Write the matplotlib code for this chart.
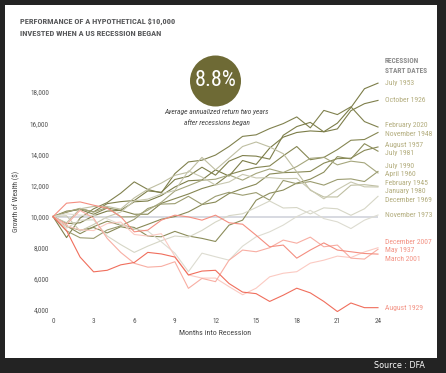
import matplotlib
matplotlib.use("Agg")
import matplotlib.pyplot as plt
import matplotlib.font_manager as fm
from matplotlib.patches import Rectangle, Ellipse
from matplotlib.ticker import FuncFormatter
import numpy as np

# ---------------- data ----------------
months = list(range(25))

july_1953 = [10000, 9550, 9600, 10050, 10350, 10400, 10950, 11000, 11350, 11900, 12300, 12350, 13000,
             12600, 13600, 13350, 14400, 15100, 15400, 15500, 15450, 16000, 17000, 18210, 18570]
oct_1926 = [10000, 10280, 10500, 10300, 10830, 10960, 11030, 11650, 11560, 12380, 12590, 13170, 12660,
            13560, 13920, 13880, 13690, 15220, 15780, 16050, 15440, 15630, 16800, 17250, 17460]
feb_2020 = [10000, 8650, 9900, 10500, 10900, 11500, 12230, 11740, 11520, 12760, 13510, 13620, 13950,
            14500, 15150, 15250, 15650, 15970, 16400, 15700, 16820, 16550, 17050, 16100, 15750]
nov_1948 = [10000, 10350, 10450, 10150, 10550, 10400, 10150, 10150, 10850, 11150, 11450, 11800, 12050,
            12700, 12950, 13150, 13250, 13900, 14500, 13650, 13800, 14300, 14900, 14950, 15400]
aug_1957 = [10000, 9400, 9120, 9300, 8950, 9350, 9180, 9500, 9830, 10000, 10300, 10770, 10930,
            11480, 11800, 12080, 12730, 12820, 12850, 12900, 13430, 13720, 13750, 14250, 14470]
july_1981 = [10000, 9400, 8900, 9350, 9700, 9450, 9300, 8750, 8700, 9050, 8750, 8600, 8400,
             9450, 9770, 11050, 11500, 11700, 12150, 12400, 12850, 13850, 13700, 14680, 14200]
july_1990 = [10000, 9080, 8640, 8600, 9140, 9400, 9820, 10520, 10800, 10830, 11300, 10780, 11300,
             11560, 11370, 11540, 11050, 12320, 12110, 12250, 12020, 12380, 12420, 12250, 12900]
apr_1960 = [10000, 10300, 10530, 10290, 10590, 9980, 9990, 10410, 10920, 11640, 11980, 12330, 12400,
            12670, 12340, 12770, 13060, 12830, 13210, 13740, 13810, 13320, 13560, 13450, 12800]
feb_1945 = [10000, 9600, 10500, 10650, 10650, 10480, 11200, 11750, 12150, 12650, 12850, 13800, 13000,
            13750, 14500, 14790, 14470, 14040, 12870, 11690, 11260, 11260, 12010, 12050, 11950]
jan_1980 = [10000, 10050, 9070, 9490, 9980, 10290, 11010, 11120, 11450, 11680, 12930, 12540, 12020,
            12220, 12710, 12480, 12500, 12430, 12450, 11730, 11140, 11730, 12220, 11910, 11900]
dec_1969 = [10000, 9260, 9770, 9790, 8750, 8200, 7700, 8100, 8450, 8750, 8680, 9110, 9650,
            10060, 10180, 10580, 11000, 10550, 10580, 10170, 10560, 10500, 10080, 10500, 11300]
nov_1973 = [10000, 10180, 10090, 10070, 9860, 9490, 9190, 9070, 8380, 7650, 6460, 7650, 7420,
            7200, 8100, 8700, 9020, 9450, 10000, 10400, 9870, 9660, 9230, 9770, 10100]
dec_2007 = [10000, 9400, 9150, 9100, 9550, 9650, 8850, 8750, 8900, 7450, 6250, 6050, 6050,
            5500, 4980, 5400, 6130, 6360, 6460, 7010, 7200, 7460, 7370, 7730, 8000]
may_1937 = [10000, 9500, 10400, 9900, 8600, 7700, 7000, 6750, 6800, 7100, 5390, 6030, 5820,
            7200, 7850, 7740, 8000, 8490, 8290, 8680, 8060, 8170, 7330, 7270, 7900]
mar_2001 = [10000, 10860, 10940, 10730, 10540, 10000, 9020, 9130, 9770, 10090, 9980, 9770, 10090,
            9600, 9510, 8800, 8060, 8170, 7330, 7850, 8310, 7850, 7740, 7630, 7590]
aug_1929 = [10000, 9100, 7400, 6450, 6550, 6900, 7050, 7700, 7600, 7400, 6250, 6500, 6550,
            5700, 5150, 5050, 4550, 4950, 5400, 5100, 4550, 3900, 4450, 4150, 4150]

series_names = ["July 1953", "October 1926", "February 2020", "November 1948", "August 1957",
                "July 1981", "July 1990", "April 1960", "February 1945", "January 1980",
                "December 1969", "November 1973", "December 2007", "May 1937", "March 2001",
                "August 1929"]
series_values = [july_1953, oct_1926, feb_2020, nov_1948, aug_1957, july_1981, july_1990, apr_1960,
                 feb_1945, jan_1980, dec_1969, nov_1973, dec_2007, may_1937, mar_2001, aug_1929]
baseline = 10000
avg_return = "8.8%"
x_ticks = [0, 3, 6, 9, 12, 15, 18, 21, 24]
y_ticks = [4000, 6000, 8000, 10000, 12000, 14000, 16000, 18000]

# ---------------- styles ----------------
line_colors = ["#7b7c47", "#7e7f4b", "#80814e", "#858652", "#888956", "#8c8d5b",
               "#9b9c70", "#a5a67d", "#bfbfa2", "#c8c8b0", "#d6d6c6", "#dddcd1",
               "#fbcac2", "#f8aea3", "#f48e80", "#f06e5c"]
green_label = "#b3ad7e"
red_label = "#f39385"
n_green = 12


def pick(fams):
    for f in fams:
        try:
            fm.findfont(fm.FontProperties(family=f), fallback_to_default=False)
            return f
        except Exception:
            pass
    return "DejaVu Sans"


COND = pick(["Liberation Sans Narrow", "Roboto Condensed", "Open Sans Condensed", "Roboto"])

W, H = 446, 373
fig = plt.figure(figsize=(W / 100, H / 100), dpi=100)
fig.patch.set_facecolor("#232323")


def fx(px):
    return px / W


def fy(py):
    return 1 - py / H


fig.patches.append(Rectangle((fx(5), fy(358)), (437 - 5) / W, (358 - 5) / H,
                             transform=fig.transFigure, facecolor="white", edgecolor="none",
                             zorder=-5))

ax = fig.add_axes([fx(53), fy(310), (378 - 53) / W, (310 - 92) / H])
ax.set_zorder(2)
ax.patch.set_alpha(0)
ax.set_xlim(0, 24)
ax.set_ylim(4000, 18000)
for s in ax.spines.values():
    s.set_visible(False)

ax.axhline(baseline, color="#d4d7de", lw=1.3, zorder=1)

for vals, col in zip(series_values, line_colors):
    ax.plot(months, vals, color=col, lw=0.8, clip_on=False, zorder=2)

ax.set_xticks(x_ticks)
ax.set_yticks(y_ticks)
ax.yaxis.set_major_formatter(FuncFormatter(lambda v, p: f"{int(v):,}"))
ax.tick_params(length=0, labelsize=5.2, colors="#555555", pad=3)
ax.tick_params(axis="x", pad=5.5)
for lab in ax.get_xticklabels() + ax.get_yticklabels():
    lab.set_family(COND)

ax.set_xlabel("Months into Recession", family=COND, fontsize=5.8, color="#444444", labelpad=4)
ax.set_ylabel("Growth of Wealth ($)", family=COND, fontsize=5.4, color="#444444", labelpad=7,
              parse_math=False)

# ---- end labels with simple de-overlap ----
px_per_unit = (310 - 92) / 14000
gap = 8.6 / px_per_unit
ends = [v[-1] for v in series_values]
order = sorted(range(len(ends)), key=lambda i: -ends[i])
clusters = [[i] for i in order]


def cluster_pos(cl):
    c = np.mean([ends[i] for i in cl])
    k = len(cl)
    return [c + gap * ((k - 1) / 2 - j) for j in range(k)]


changed = True
while changed:
    changed = False
    for a in range(len(clusters) - 1):
        pa = cluster_pos(clusters[a])
        pb = cluster_pos(clusters[a + 1])
        if pa[-1] - pb[0] < gap:
            clusters[a] = clusters[a] + clusters[a + 1]
            del clusters[a + 1]
            changed = True
            break

for cl in clusters:
    for i, yv in zip(cl, cluster_pos(cl)):
        ax.text(24.5, yv, series_names[i], family=COND, fontsize=5.5,
                color=green_label if i < n_green else red_label,
                va="center", ha="left", clip_on=False)

# ---- titles / annotations ----
fig.text(fx(20), fy(21), "PERFORMANCE OF A HYPOTHETICAL $10,000", family=COND, weight="bold",
         fontsize=6.0, color="#58595b", va="center", parse_math=False)
fig.text(fx(20), fy(34), "INVESTED WHEN A US RECESSION BEGAN", family=COND, weight="bold",
         fontsize=6.0, color="#58595b", va="center")

fig.text(fx(385), fy(61), "RECESSION", family=COND, weight="bold", fontsize=5.3,
         color="#8d8d8d", va="center")
fig.text(fx(385), fy(71), "START DATES", family=COND, weight="bold", fontsize=5.3,
         color="#8d8d8d", va="center")

fig.patches.append(Ellipse((fx(215.5), fy(81)), 51 / W, 51 / H, transform=fig.transFigure,
                           facecolor="#6e6a35", edgecolor="none", zorder=3))
fig.text(fx(215.5), fy(81), avg_return, family=COND, fontsize=16, color="white",
         ha="center", va="center", zorder=4)
fig.text(fx(217), fy(112), "Average annualized return two years", family=COND, style="italic",
         fontsize=5.4, color="#444444", ha="center", va="center")
fig.text(fx(217), fy(123), "after recessions began", family=COND, style="italic",
         fontsize=5.4, color="#444444", ha="center", va="center")

fig.text(fx(425), fy(365), "Source : DFA", family="DejaVu Sans", fontsize=5.8, color="white",
         ha="right", va="center")

fig.savefig("out.png", dpi=100, facecolor=fig.get_facecolor())
